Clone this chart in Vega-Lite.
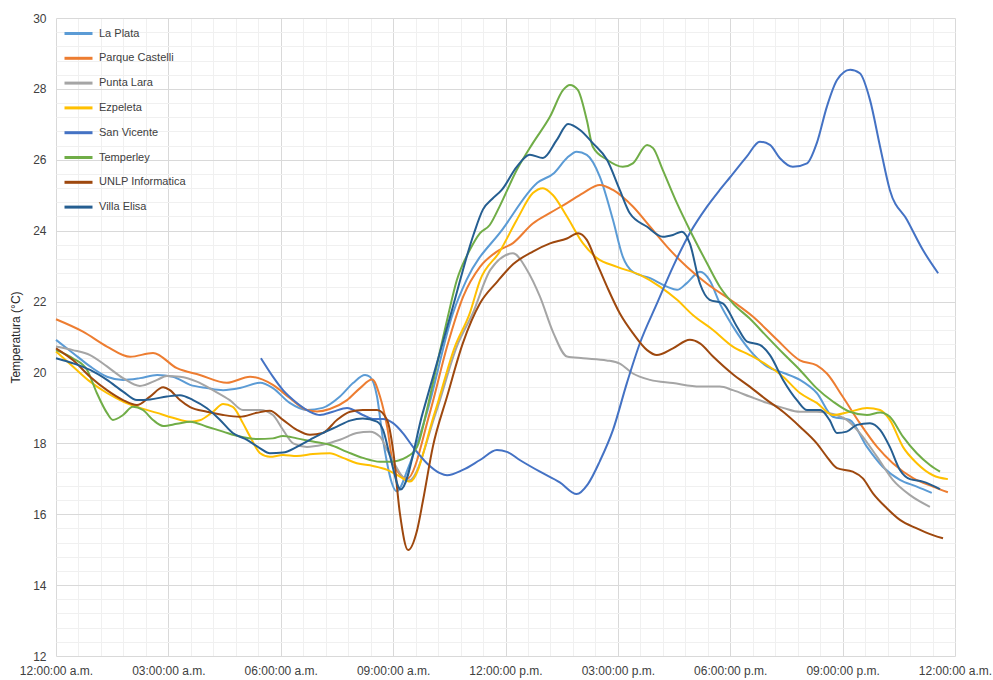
{
  "$schema": "https://vega.github.io/schema/vega-lite/v6.json",
  "width": 899,
  "height": 638,
  "autosize": {"type": "none"},
  "padding": {"left": 56, "top": 18, "right": 38, "bottom": 24},
  "background": "white",
  "config": {
    "view": {"stroke": null},
    "font": "Liberation Sans",
    "axis": {"labelFont": "Liberation Sans", "titleFont": "Liberation Sans"},
    "legend": {"labelFont": "Liberation Sans"}
  },
  "data": {"values": [
    {"s":"La Plata","h":0,"t":20.92},{"s":"La Plata","h":0.45,"t":20.55},{"s":"La Plata","h":0.91,"t":20.17},{"s":"La Plata","h":1.36,"t":19.88},{"s":"La Plata","h":1.79,"t":19.79},{"s":"La Plata","h":2.24,"t":19.84},{"s":"La Plata","h":2.7,"t":19.93},{"s":"La Plata","h":3.12,"t":19.88},{"s":"La Plata","h":3.58,"t":19.65},{"s":"La Plata","h":4.03,"t":19.56},{"s":"La Plata","h":4.46,"t":19.5},{"s":"La Plata","h":4.91,"t":19.56},{"s":"La Plata","h":5.45,"t":19.71},{"s":"La Plata","h":5.79,"t":19.56},{"s":"La Plata","h":6.24,"t":19.14},{"s":"La Plata","h":6.7,"t":18.94},{"s":"La Plata","h":7.12,"t":19.0},{"s":"La Plata","h":7.58,"t":19.32},{"s":"La Plata","h":7.93,"t":19.7},{"s":"La Plata","h":8.25,"t":19.93},{"s":"La Plata","h":8.38,"t":19.88},{"s":"La Plata","h":8.57,"t":19.32},{"s":"La Plata","h":8.73,"t":18.1},{"s":"La Plata","h":9.1,"t":16.65},{"s":"La Plata","h":9.4,"t":17.3},{"s":"La Plata","h":9.9,"t":18.86},{"s":"La Plata","h":10.6,"t":21.68},{"s":"La Plata","h":10.96,"t":22.61},{"s":"La Plata","h":11.93,"t":24.05},{"s":"La Plata","h":12.85,"t":25.35},{"s":"La Plata","h":13.3,"t":25.63},{"s":"La Plata","h":13.64,"t":26.05},{"s":"La Plata","h":13.9,"t":26.23},{"s":"La Plata","h":14.17,"t":26.14},{"s":"La Plata","h":14.52,"t":25.52},{"s":"La Plata","h":14.87,"t":24.3},{"s":"La Plata","h":15.13,"t":23.27},{"s":"La Plata","h":15.4,"t":22.84},{"s":"La Plata","h":15.86,"t":22.66},{"s":"La Plata","h":16.31,"t":22.42},{"s":"La Plata","h":16.58,"t":22.33},{"s":"La Plata","h":16.84,"t":22.52},{"s":"La Plata","h":17.19,"t":22.84},{"s":"La Plata","h":17.45,"t":22.6},{"s":"La Plata","h":17.72,"t":21.95},{"s":"La Plata","h":18.07,"t":21.3},{"s":"La Plata","h":18.52,"t":20.63},{"s":"La Plata","h":18.98,"t":20.17},{"s":"La Plata","h":19.41,"t":19.99},{"s":"La Plata","h":19.86,"t":19.79},{"s":"La Plata","h":20.31,"t":19.42},{"s":"La Plata","h":20.74,"t":18.75},{"s":"La Plata","h":21.19,"t":18.66},{"s":"La Plata","h":21.65,"t":17.9},{"s":"La Plata","h":22.07,"t":17.34},{"s":"La Plata","h":22.53,"t":16.97},{"s":"La Plata","h":22.98,"t":16.78},{"s":"La Plata","h":23.38,"t":16.6},

    {"s":"Parque Castelli","h":0,"t":21.5},{"s":"Parque Castelli","h":0.72,"t":21.15},{"s":"Parque Castelli","h":1.36,"t":20.73},{"s":"Parque Castelli","h":1.98,"t":20.44},{"s":"Parque Castelli","h":2.59,"t":20.55},{"s":"Parque Castelli","h":3.23,"t":20.12},{"s":"Parque Castelli","h":3.84,"t":19.93},{"s":"Parque Castelli","h":4.56,"t":19.71},{"s":"Parque Castelli","h":5.18,"t":19.88},{"s":"Parque Castelli","h":5.79,"t":19.65},{"s":"Parque Castelli","h":6.24,"t":19.28},{"s":"Parque Castelli","h":6.7,"t":18.94},{"s":"Parque Castelli","h":6.97,"t":18.9},{"s":"Parque Castelli","h":7.31,"t":18.97},{"s":"Parque Castelli","h":7.77,"t":19.22},{"s":"Parque Castelli","h":8.11,"t":19.55},{"s":"Parque Castelli","h":8.44,"t":19.8},{"s":"Parque Castelli","h":8.65,"t":19.32},{"s":"Parque Castelli","h":8.84,"t":18.47},{"s":"Parque Castelli","h":9.0,"t":17.44},{"s":"Parque Castelli","h":9.37,"t":17.0},{"s":"Parque Castelli","h":9.98,"t":18.86},{"s":"Parque Castelli","h":10.44,"t":20.73},{"s":"Parque Castelli","h":10.87,"t":22.14},{"s":"Parque Castelli","h":11.32,"t":22.98},{"s":"Parque Castelli","h":11.77,"t":23.41},{"s":"Parque Castelli","h":12.2,"t":23.65},{"s":"Parque Castelli","h":12.73,"t":24.2},{"s":"Parque Castelli","h":13.19,"t":24.5},{"s":"Parque Castelli","h":13.64,"t":24.78},{"s":"Parque Castelli","h":14.07,"t":25.06},{"s":"Parque Castelli","h":14.52,"t":25.29},{"s":"Parque Castelli","h":14.87,"t":25.15},{"s":"Parque Castelli","h":15.4,"t":24.68},{"s":"Parque Castelli","h":15.86,"t":24.11},{"s":"Parque Castelli","h":16.31,"t":23.55},{"s":"Parque Castelli","h":16.84,"t":22.98},{"s":"Parque Castelli","h":17.38,"t":22.5},{"s":"Parque Castelli","h":18.07,"t":22.0},{"s":"Parque Castelli","h":18.61,"t":21.57},{"s":"Parque Castelli","h":19.25,"t":20.92},{"s":"Parque Castelli","h":19.86,"t":20.34},{"s":"Parque Castelli","h":20.31,"t":20.2},{"s":"Parque Castelli","h":20.58,"t":19.97},{"s":"Parque Castelli","h":21.0,"t":19.32},{"s":"Parque Castelli","h":21.46,"t":18.57},{"s":"Parque Castelli","h":21.92,"t":17.9},{"s":"Parque Castelli","h":22.34,"t":17.44},{"s":"Parque Castelli","h":22.88,"t":17.02},{"s":"Parque Castelli","h":23.41,"t":16.78},{"s":"Parque Castelli","h":23.81,"t":16.62},

    {"s":"Punta Lara","h":0,"t":20.73},{"s":"Punta Lara","h":0.45,"t":20.63},{"s":"Punta Lara","h":0.91,"t":20.49},{"s":"Punta Lara","h":1.36,"t":20.17},{"s":"Punta Lara","h":1.79,"t":19.84},{"s":"Punta Lara","h":2.24,"t":19.62},{"s":"Punta Lara","h":2.7,"t":19.79},{"s":"Punta Lara","h":2.96,"t":19.9},{"s":"Punta Lara","h":3.31,"t":19.88},{"s":"Punta Lara","h":3.76,"t":19.74},{"s":"Punta Lara","h":4.19,"t":19.5},{"s":"Punta Lara","h":4.64,"t":19.22},{"s":"Punta Lara","h":4.99,"t":18.94},{"s":"Punta Lara","h":5.45,"t":18.94},{"s":"Punta Lara","h":5.79,"t":18.8},{"s":"Punta Lara","h":6.06,"t":18.38},{"s":"Punta Lara","h":6.33,"t":18.0},{"s":"Punta Lara","h":6.7,"t":17.9},{"s":"Punta Lara","h":7.12,"t":17.96},{"s":"Punta Lara","h":7.58,"t":18.1},{"s":"Punta Lara","h":8.03,"t":18.29},{"s":"Punta Lara","h":8.38,"t":18.33},{"s":"Punta Lara","h":8.65,"t":18.19},{"s":"Punta Lara","h":8.84,"t":17.81},{"s":"Punta Lara","h":9.42,"t":16.95},{"s":"Punta Lara","h":10.14,"t":18.86},{"s":"Punta Lara","h":10.7,"t":20.73},{"s":"Punta Lara","h":11.13,"t":21.68},{"s":"Punta Lara","h":11.6,"t":22.9},{"s":"Punta Lara","h":12.2,"t":23.36},{"s":"Punta Lara","h":12.57,"t":22.9},{"s":"Punta Lara","h":12.92,"t":22.14},{"s":"Punta Lara","h":13.28,"t":21.11},{"s":"Punta Lara","h":13.64,"t":20.45},{"s":"Punta Lara","h":14.07,"t":20.4},{"s":"Punta Lara","h":14.7,"t":20.34},{"s":"Punta Lara","h":15.05,"t":20.25},{"s":"Punta Lara","h":15.4,"t":19.97},{"s":"Punta Lara","h":15.86,"t":19.79},{"s":"Punta Lara","h":16.47,"t":19.7},{"s":"Punta Lara","h":17.19,"t":19.6},{"s":"Punta Lara","h":17.72,"t":19.6},{"s":"Punta Lara","h":18.07,"t":19.5},{"s":"Punta Lara","h":18.52,"t":19.32},{"s":"Punta Lara","h":18.98,"t":19.14},{"s":"Punta Lara","h":19.41,"t":19.0},{"s":"Punta Lara","h":19.86,"t":18.89},{"s":"Punta Lara","h":20.31,"t":18.89},{"s":"Punta Lara","h":20.74,"t":18.83},{"s":"Punta Lara","h":21.11,"t":18.66},{"s":"Punta Lara","h":21.46,"t":18.29},{"s":"Punta Lara","h":21.92,"t":17.62},{"s":"Punta Lara","h":22.34,"t":16.97},{"s":"Punta Lara","h":22.8,"t":16.54},{"s":"Punta Lara","h":23.33,"t":16.21},

    {"s":"Ezpeleta","h":0,"t":20.59},{"s":"Ezpeleta","h":0.45,"t":20.17},{"s":"Ezpeleta","h":0.91,"t":19.74},{"s":"Ezpeleta","h":1.36,"t":19.42},{"s":"Ezpeleta","h":1.79,"t":19.18},{"s":"Ezpeleta","h":2.24,"t":19.0},{"s":"Ezpeleta","h":2.7,"t":18.86},{"s":"Ezpeleta","h":3.12,"t":18.72},{"s":"Ezpeleta","h":3.58,"t":18.61},{"s":"Ezpeleta","h":3.84,"t":18.65},{"s":"Ezpeleta","h":4.19,"t":18.89},{"s":"Ezpeleta","h":4.46,"t":19.11},{"s":"Ezpeleta","h":4.72,"t":19.03},{"s":"Ezpeleta","h":4.99,"t":18.57},{"s":"Ezpeleta","h":5.18,"t":18.19},{"s":"Ezpeleta","h":5.45,"t":17.72},{"s":"Ezpeleta","h":5.71,"t":17.62},{"s":"Ezpeleta","h":6.06,"t":17.67},{"s":"Ezpeleta","h":6.43,"t":17.64},{"s":"Ezpeleta","h":6.86,"t":17.7},{"s":"Ezpeleta","h":7.31,"t":17.72},{"s":"Ezpeleta","h":7.66,"t":17.59},{"s":"Ezpeleta","h":8.03,"t":17.44},{"s":"Ezpeleta","h":8.46,"t":17.36},{"s":"Ezpeleta","h":8.84,"t":17.25},{"s":"Ezpeleta","h":9.18,"t":17.06},{"s":"Ezpeleta","h":9.45,"t":16.92},{"s":"Ezpeleta","h":10.11,"t":18.86},{"s":"Ezpeleta","h":10.65,"t":20.73},{"s":"Ezpeleta","h":11.05,"t":21.68},{"s":"Ezpeleta","h":11.32,"t":22.6},{"s":"Ezpeleta","h":11.84,"t":23.4},{"s":"Ezpeleta","h":12.3,"t":24.3},{"s":"Ezpeleta","h":12.73,"t":25.06},{"s":"Ezpeleta","h":13.0,"t":25.2},{"s":"Ezpeleta","h":13.27,"t":25.0},{"s":"Ezpeleta","h":13.64,"t":24.4},{"s":"Ezpeleta","h":14.07,"t":23.64},{"s":"Ezpeleta","h":14.44,"t":23.23},{"s":"Ezpeleta","h":14.98,"t":22.98},{"s":"Ezpeleta","h":15.59,"t":22.75},{"s":"Ezpeleta","h":16.12,"t":22.42},{"s":"Ezpeleta","h":16.58,"t":22.05},{"s":"Ezpeleta","h":17.0,"t":21.62},{"s":"Ezpeleta","h":17.54,"t":21.2},{"s":"Ezpeleta","h":18.07,"t":20.73},{"s":"Ezpeleta","h":18.52,"t":20.49},{"s":"Ezpeleta","h":18.98,"t":20.21},{"s":"Ezpeleta","h":19.41,"t":19.88},{"s":"Ezpeleta","h":19.86,"t":19.42},{"s":"Ezpeleta","h":20.31,"t":19.14},{"s":"Ezpeleta","h":20.74,"t":18.8},{"s":"Ezpeleta","h":21.19,"t":18.89},{"s":"Ezpeleta","h":21.65,"t":19.0},{"s":"Ezpeleta","h":22.0,"t":18.94},{"s":"Ezpeleta","h":22.26,"t":18.66},{"s":"Ezpeleta","h":22.61,"t":17.9},{"s":"Ezpeleta","h":22.98,"t":17.44},{"s":"Ezpeleta","h":23.41,"t":17.1},{"s":"Ezpeleta","h":23.81,"t":16.99},

    {"s":"San Vicente","h":5.47,"t":20.4},{"s":"San Vicente","h":5.79,"t":19.88},{"s":"San Vicente","h":6.06,"t":19.5},{"s":"San Vicente","h":6.43,"t":19.14},{"s":"San Vicente","h":6.78,"t":18.89},{"s":"San Vicente","h":7.05,"t":18.8},{"s":"San Vicente","h":7.39,"t":18.89},{"s":"San Vicente","h":7.77,"t":19.0},{"s":"San Vicente","h":8.19,"t":18.8},{"s":"San Vicente","h":8.46,"t":18.69},{"s":"San Vicente","h":8.73,"t":18.69},{"s":"San Vicente","h":9.0,"t":18.57},{"s":"San Vicente","h":9.26,"t":18.29},{"s":"San Vicente","h":9.53,"t":17.9},{"s":"San Vicente","h":9.9,"t":17.44},{"s":"San Vicente","h":10.25,"t":17.16},{"s":"San Vicente","h":10.44,"t":17.1},{"s":"San Vicente","h":10.86,"t":17.25},{"s":"San Vicente","h":11.32,"t":17.53},{"s":"San Vicente","h":11.77,"t":17.81},{"s":"San Vicente","h":12.04,"t":17.76},{"s":"San Vicente","h":12.38,"t":17.53},{"s":"San Vicente","h":12.92,"t":17.2},{"s":"San Vicente","h":13.45,"t":16.9},{"s":"San Vicente","h":13.9,"t":16.57},{"s":"San Vicente","h":14.2,"t":16.85},{"s":"San Vicente","h":14.52,"t":17.5},{"s":"San Vicente","h":14.87,"t":18.38},{"s":"San Vicente","h":15.24,"t":19.7},{"s":"San Vicente","h":15.59,"t":20.83},{"s":"San Vicente","h":16.05,"t":21.96},{"s":"San Vicente","h":16.47,"t":22.98},{"s":"San Vicente","h":16.92,"t":23.93},{"s":"San Vicente","h":17.38,"t":24.68},{"s":"San Vicente","h":17.72,"t":25.15},{"s":"San Vicente","h":17.99,"t":25.5},{"s":"San Vicente","h":18.44,"t":26.09},{"s":"San Vicente","h":18.79,"t":26.51},{"s":"San Vicente","h":19.06,"t":26.42},{"s":"San Vicente","h":19.32,"t":26.05},{"s":"San Vicente","h":19.67,"t":25.8},{"s":"San Vicente","h":20.05,"t":25.9},{"s":"San Vicente","h":20.31,"t":26.47},{"s":"San Vicente","h":20.58,"t":27.5},{"s":"San Vicente","h":20.85,"t":28.25},{"s":"San Vicente","h":21.2,"t":28.54},{"s":"San Vicente","h":21.46,"t":28.44},{"s":"San Vicente","h":21.73,"t":27.69},{"s":"San Vicente","h":22.0,"t":26.37},{"s":"San Vicente","h":22.26,"t":25.15},{"s":"San Vicente","h":22.72,"t":24.3},{"s":"San Vicente","h":23.14,"t":23.46},{"s":"San Vicente","h":23.55,"t":22.8},

    {"s":"Temperley","h":0,"t":20.63},{"s":"Temperley","h":0.45,"t":20.4},{"s":"Temperley","h":0.83,"t":20.07},{"s":"Temperley","h":1.09,"t":19.42},{"s":"Temperley","h":1.36,"t":18.86},{"s":"Temperley","h":1.52,"t":18.66},{"s":"Temperley","h":1.79,"t":18.8},{"s":"Temperley","h":2.05,"t":19.03},{"s":"Temperley","h":2.32,"t":18.94},{"s":"Temperley","h":2.59,"t":18.66},{"s":"Temperley","h":2.86,"t":18.49},{"s":"Temperley","h":3.23,"t":18.55},{"s":"Temperley","h":3.58,"t":18.61},{"s":"Temperley","h":4.03,"t":18.47},{"s":"Temperley","h":4.46,"t":18.33},{"s":"Temperley","h":4.91,"t":18.19},{"s":"Temperley","h":5.37,"t":18.12},{"s":"Temperley","h":5.79,"t":18.14},{"s":"Temperley","h":6.06,"t":18.21},{"s":"Temperley","h":6.43,"t":18.14},{"s":"Temperley","h":6.86,"t":18.05},{"s":"Temperley","h":7.31,"t":17.96},{"s":"Temperley","h":7.77,"t":17.76},{"s":"Temperley","h":8.19,"t":17.59},{"s":"Temperley","h":8.65,"t":17.48},{"s":"Temperley","h":8.92,"t":17.48},{"s":"Temperley","h":9.37,"t":17.62},{"s":"Temperley","h":9.64,"t":17.9},{"s":"Temperley","h":9.9,"t":18.94},{"s":"Temperley","h":10.16,"t":20.17},{"s":"Temperley","h":10.44,"t":21.48},{"s":"Temperley","h":10.7,"t":22.6},{"s":"Temperley","h":11.05,"t":23.46},{"s":"Temperley","h":11.32,"t":23.93},{"s":"Temperley","h":11.58,"t":24.16},{"s":"Temperley","h":11.85,"t":24.7},{"s":"Temperley","h":12.3,"t":25.71},{"s":"Temperley","h":12.73,"t":26.47},{"s":"Temperley","h":13.19,"t":27.22},{"s":"Temperley","h":13.54,"t":27.97},{"s":"Temperley","h":13.72,"t":28.11},{"s":"Temperley","h":13.93,"t":27.97},{"s":"Temperley","h":14.17,"t":27.12},{"s":"Temperley","h":14.33,"t":26.37},{"s":"Temperley","h":14.71,"t":26.0},{"s":"Temperley","h":15.13,"t":25.8},{"s":"Temperley","h":15.4,"t":25.9},{"s":"Temperley","h":15.78,"t":26.42},{"s":"Temperley","h":15.94,"t":26.33},{"s":"Temperley","h":16.2,"t":25.71},{"s":"Temperley","h":16.58,"t":24.77},{"s":"Temperley","h":16.92,"t":24.02},{"s":"Temperley","h":17.38,"t":23.08},{"s":"Temperley","h":17.72,"t":22.42},{"s":"Temperley","h":18.07,"t":21.95},{"s":"Temperley","h":18.52,"t":21.52},{"s":"Temperley","h":18.98,"t":21.01},{"s":"Temperley","h":19.41,"t":20.54},{"s":"Temperley","h":19.86,"t":20.07},{"s":"Temperley","h":20.31,"t":19.55},{"s":"Temperley","h":20.74,"t":19.18},{"s":"Temperley","h":21.19,"t":18.89},{"s":"Temperley","h":21.65,"t":18.8},{"s":"Temperley","h":22.0,"t":18.87},{"s":"Temperley","h":22.26,"t":18.75},{"s":"Temperley","h":22.61,"t":18.19},{"s":"Temperley","h":22.98,"t":17.72},{"s":"Temperley","h":23.33,"t":17.39},{"s":"Temperley","h":23.6,"t":17.2},

    {"s":"UNLP Informatica","h":0,"t":20.68},{"s":"UNLP Informatica","h":0.45,"t":20.35},{"s":"UNLP Informatica","h":0.91,"t":19.88},{"s":"UNLP Informatica","h":1.36,"t":19.5},{"s":"UNLP Informatica","h":1.79,"t":19.22},{"s":"UNLP Informatica","h":2.16,"t":19.08},{"s":"UNLP Informatica","h":2.51,"t":19.32},{"s":"UNLP Informatica","h":2.86,"t":19.58},{"s":"UNLP Informatica","h":3.04,"t":19.5},{"s":"UNLP Informatica","h":3.31,"t":19.22},{"s":"UNLP Informatica","h":3.58,"t":19.02},{"s":"UNLP Informatica","h":4.03,"t":18.89},{"s":"UNLP Informatica","h":4.46,"t":18.8},{"s":"UNLP Informatica","h":4.91,"t":18.75},{"s":"UNLP Informatica","h":5.36,"t":18.86},{"s":"UNLP Informatica","h":5.71,"t":18.92},{"s":"UNLP Informatica","h":6.06,"t":18.66},{"s":"UNLP Informatica","h":6.43,"t":18.38},{"s":"UNLP Informatica","h":6.78,"t":18.24},{"s":"UNLP Informatica","h":7.12,"t":18.29},{"s":"UNLP Informatica","h":7.5,"t":18.66},{"s":"UNLP Informatica","h":7.85,"t":18.89},{"s":"UNLP Informatica","h":8.19,"t":18.94},{"s":"UNLP Informatica","h":8.57,"t":18.94},{"s":"UNLP Informatica","h":8.84,"t":18.66},{"s":"UNLP Informatica","h":9.0,"t":17.8},{"s":"UNLP Informatica","h":9.18,"t":16.03},{"s":"UNLP Informatica","h":9.4,"t":14.99},{"s":"UNLP Informatica","h":9.64,"t":15.55},{"s":"UNLP Informatica","h":9.8,"t":16.4},{"s":"UNLP Informatica","h":10.06,"t":17.9},{"s":"UNLP Informatica","h":10.44,"t":19.32},{"s":"UNLP Informatica","h":10.86,"t":20.82},{"s":"UNLP Informatica","h":11.32,"t":21.95},{"s":"UNLP Informatica","h":11.77,"t":22.55},{"s":"UNLP Informatica","h":12.2,"t":23.05},{"s":"UNLP Informatica","h":12.73,"t":23.41},{"s":"UNLP Informatica","h":13.19,"t":23.64},{"s":"UNLP Informatica","h":13.64,"t":23.78},{"s":"UNLP Informatica","h":13.94,"t":23.93},{"s":"UNLP Informatica","h":14.17,"t":23.74},{"s":"UNLP Informatica","h":14.44,"t":23.08},{"s":"UNLP Informatica","h":14.71,"t":22.42},{"s":"UNLP Informatica","h":15.05,"t":21.67},{"s":"UNLP Informatica","h":15.4,"t":21.11},{"s":"UNLP Informatica","h":15.78,"t":20.63},{"s":"UNLP Informatica","h":16.04,"t":20.49},{"s":"UNLP Informatica","h":16.47,"t":20.68},{"s":"UNLP Informatica","h":16.92,"t":20.92},{"s":"UNLP Informatica","h":17.19,"t":20.82},{"s":"UNLP Informatica","h":17.54,"t":20.45},{"s":"UNLP Informatica","h":18.07,"t":19.95},{"s":"UNLP Informatica","h":18.52,"t":19.6},{"s":"UNLP Informatica","h":18.98,"t":19.22},{"s":"UNLP Informatica","h":19.41,"t":18.89},{"s":"UNLP Informatica","h":19.86,"t":18.47},{"s":"UNLP Informatica","h":20.31,"t":18.0},{"s":"UNLP Informatica","h":20.58,"t":17.62},{"s":"UNLP Informatica","h":20.85,"t":17.3},{"s":"UNLP Informatica","h":21.27,"t":17.2},{"s":"UNLP Informatica","h":21.54,"t":17.01},{"s":"UNLP Informatica","h":21.81,"t":16.59},{"s":"UNLP Informatica","h":22.18,"t":16.17},{"s":"UNLP Informatica","h":22.53,"t":15.84},{"s":"UNLP Informatica","h":22.98,"t":15.6},{"s":"UNLP Informatica","h":23.41,"t":15.41},{"s":"UNLP Informatica","h":23.68,"t":15.32},

    {"s":"Villa Elisa","h":0,"t":20.4},{"s":"Villa Elisa","h":0.45,"t":20.26},{"s":"Villa Elisa","h":0.91,"t":20.07},{"s":"Villa Elisa","h":1.36,"t":19.79},{"s":"Villa Elisa","h":1.79,"t":19.46},{"s":"Villa Elisa","h":2.16,"t":19.22},{"s":"Villa Elisa","h":2.51,"t":19.24},{"s":"Villa Elisa","h":2.96,"t":19.32},{"s":"Villa Elisa","h":3.31,"t":19.36},{"s":"Villa Elisa","h":3.66,"t":19.22},{"s":"Villa Elisa","h":4.03,"t":18.99},{"s":"Villa Elisa","h":4.38,"t":18.66},{"s":"Villa Elisa","h":4.72,"t":18.29},{"s":"Villa Elisa","h":5.1,"t":18.1},{"s":"Villa Elisa","h":5.45,"t":17.86},{"s":"Villa Elisa","h":5.71,"t":17.72},{"s":"Villa Elisa","h":6.06,"t":17.74},{"s":"Villa Elisa","h":6.43,"t":17.9},{"s":"Villa Elisa","h":6.78,"t":18.1},{"s":"Villa Elisa","h":7.12,"t":18.29},{"s":"Villa Elisa","h":7.5,"t":18.47},{"s":"Villa Elisa","h":7.85,"t":18.64},{"s":"Villa Elisa","h":8.19,"t":18.7},{"s":"Villa Elisa","h":8.57,"t":18.61},{"s":"Villa Elisa","h":8.73,"t":18.38},{"s":"Villa Elisa","h":8.92,"t":17.62},{"s":"Villa Elisa","h":9.2,"t":16.7},{"s":"Villa Elisa","h":9.79,"t":18.86},{"s":"Villa Elisa","h":10.55,"t":21.68},{"s":"Villa Elisa","h":11.15,"t":23.9},{"s":"Villa Elisa","h":11.4,"t":24.6},{"s":"Villa Elisa","h":11.65,"t":24.9},{"s":"Villa Elisa","h":11.9,"t":25.15},{"s":"Villa Elisa","h":12.3,"t":25.8},{"s":"Villa Elisa","h":12.65,"t":26.14},{"s":"Villa Elisa","h":13.0,"t":26.05},{"s":"Villa Elisa","h":13.37,"t":26.56},{"s":"Villa Elisa","h":13.67,"t":27.01},{"s":"Villa Elisa","h":13.99,"t":26.84},{"s":"Villa Elisa","h":14.33,"t":26.47},{"s":"Villa Elisa","h":14.71,"t":26.0},{"s":"Villa Elisa","h":15.05,"t":25.15},{"s":"Villa Elisa","h":15.32,"t":24.49},{"s":"Villa Elisa","h":15.78,"t":24.11},{"s":"Villa Elisa","h":16.2,"t":23.83},{"s":"Villa Elisa","h":16.47,"t":23.88},{"s":"Villa Elisa","h":16.71,"t":23.97},{"s":"Villa Elisa","h":16.92,"t":23.64},{"s":"Villa Elisa","h":17.19,"t":22.51},{"s":"Villa Elisa","h":17.45,"t":22.05},{"s":"Villa Elisa","h":17.8,"t":21.95},{"s":"Villa Elisa","h":18.18,"t":21.29},{"s":"Villa Elisa","h":18.45,"t":20.87},{"s":"Villa Elisa","h":18.79,"t":20.78},{"s":"Villa Elisa","h":19.06,"t":20.49},{"s":"Villa Elisa","h":19.41,"t":19.79},{"s":"Villa Elisa","h":19.78,"t":19.22},{"s":"Villa Elisa","h":20.05,"t":18.94},{"s":"Villa Elisa","h":20.4,"t":18.94},{"s":"Villa Elisa","h":20.65,"t":18.66},{"s":"Villa Elisa","h":20.85,"t":18.29},{"s":"Villa Elisa","h":21.11,"t":18.33},{"s":"Villa Elisa","h":21.38,"t":18.52},{"s":"Villa Elisa","h":21.73,"t":18.57},{"s":"Villa Elisa","h":22.0,"t":18.38},{"s":"Villa Elisa","h":22.26,"t":17.9},{"s":"Villa Elisa","h":22.53,"t":17.25},{"s":"Villa Elisa","h":22.8,"t":16.99},{"s":"Villa Elisa","h":23.14,"t":16.92},{"s":"Villa Elisa","h":23.6,"t":16.71}
  ]},
  "resolve": {"axis": {"x": "independent", "y": "independent"}},
  "layer": [
    {
      "mark": {"type": "line", "strokeOpacity": 0},
      "encoding": {
        "x": {"field": "h", "type": "quantitative",
          "scale": {"domain": [0, 24], "nice": false, "zero": false},
          "axis": {"orient": "bottom", "values": [0.6,1.2,1.8,2.4,3.6,4.2,4.8,5.4,6.6,7.2,7.8,8.4,9.6,10.2,10.8,11.4,12.6,13.2,13.8,14.4,15.6,16.2,16.8,17.4,18.6,19.2,19.8,20.4,21.6,22.2,22.8,23.4],
            "grid": true, "gridColor": "#f0f0f0", "gridWidth": 1, "labels": false, "ticks": false, "domain": false, "title": null}},
        "y": {"field": "t", "type": "quantitative",
          "scale": {"domain": [12, 30], "nice": false, "zero": false},
          "axis": {"orient": "left", "values": [12.4,12.8,13.2,13.6,14.4,14.8,15.2,15.6,16.4,16.8,17.2,17.6,18.4,18.8,19.2,19.6,20.4,20.8,21.2,21.6,22.4,22.8,23.2,23.6,24.4,24.8,25.2,25.6,26.4,26.8,27.2,27.6,28.4,28.8,29.2,29.6],
            "grid": true, "gridColor": "#f0f0f0", "gridWidth": 1, "labels": false, "ticks": false, "domain": false, "title": null}},
        "detail": {"field": "s"}
      }
    },
    {
      "mark": {"type": "line", "interpolate": "monotone", "strokeWidth": 2},
      "encoding": {
        "x": {"field": "h", "type": "quantitative",
          "scale": {"domain": [0, 24], "nice": false, "zero": false},
          "axis": {"orient": "bottom", "values": [0,3,6,9,12,15,18,21,24],
            "labelExpr": "['12:00:00 a.m.','03:00:00 a.m.','06:00:00 a.m.','09:00:00 a.m.','12:00:00 p.m.','03:00:00 p.m.','06:00:00 p.m.','09:00:00 p.m.','12:00:00 a.m.'][round(datum.value/3)]",
            "grid": true, "gridColor": "#d9d9d9", "gridWidth": 1, "ticks": false, "domain": false, "title": null,
            "labelFontSize": 12, "labelColor": "#404040", "labelPadding": 9, "labelFlush": false, "labelOverlap": false}},
        "y": {"field": "t", "type": "quantitative",
          "scale": {"domain": [12, 30], "nice": false, "zero": false},
          "axis": {"orient": "left", "values": [12,14,16,18,20,22,24,26,28,30],
            "grid": true, "gridColor": "#d9d9d9", "gridWidth": 1, "ticks": false, "domain": false,
            "title": "Temperatura (°C)", "titleFontSize": 12, "titleFontWeight": "normal", "titleColor": "#262626", "titlePadding": 10,
            "labelFontSize": 12, "labelColor": "#404040", "labelPadding": 10, "labelFlush": false, "labelOverlap": false}},
        "color": {"field": "s", "type": "nominal", "sort": null,
          "scale": {"domain": ["La Plata","Parque Castelli","Punta Lara","Ezpeleta","San Vicente","Temperley","UNLP Informatica","Villa Elisa"],
            "range": ["#5B9BD5","#ED7D31","#A5A5A5","#FFC000","#4472C4","#70AD47","#9E480E","#255E91"]},
          "legend": {"orient": "top-left", "offset": 4, "padding": 0, "title": null,
            "symbolType": "M-0.7,0H2.1", "symbolSize": 400, "symbolStrokeWidth": 3, "symbolFillColor": "transparent",
            "labelFontSize": 11, "labelColor": "#404040", "labelOffset": 16, "rowPadding": 6.8}}
      }
    }
  ]
}
